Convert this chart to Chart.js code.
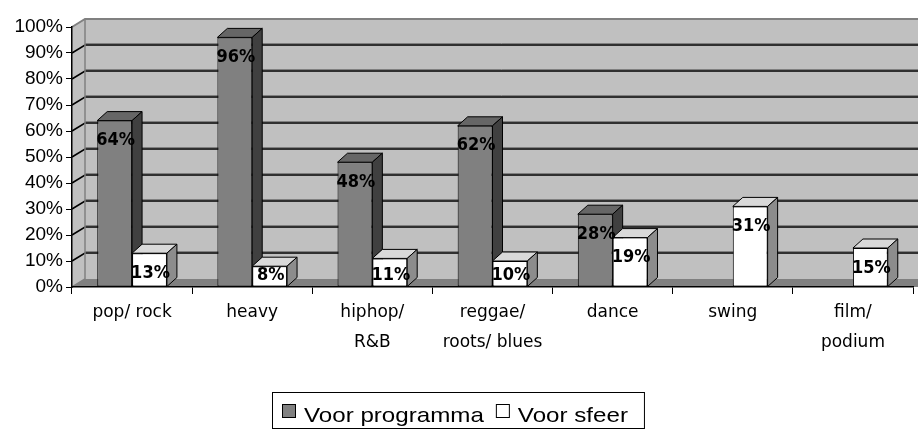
<!DOCTYPE html>
<html>
<head>
<meta charset="utf-8">
<script src="https://cdn.jsdelivr.net/npm/chart.js@4"></script>
<style>
  html, body { margin: 0; padding: 0; background: #fff; }
  #wrap { width: 918px; height: 431px; }
</style>
</head>
<body>
<div id="wrap"><canvas id="genreChart" width="918" height="431"></canvas></div>
<script>
const categories = [['pop/ rock'], ['heavy'], ['hiphop/', 'R&B'], ['reggae/', 'roots/ blues'], ['dance'], ['swing'], ['film/', 'podium']];
const programmaValues = [64, 96, 48, 62, 28, 0, 0];
const sfeerValues = [13, 8, 11, 10, 19, 31, 15];
const seriesNames = ['Voor programma', 'Voor sfeer'];

// colours per series: front, top, side
const faces = [
  { front: '#808080', top: '#666666', side: '#404040' },
  { front: '#ffffff', top: '#d9d9d9', side: '#8c8c8c' }
];
const wallDepth = { dx: 13, dy: -8 };
const barDepth = { dx: 10, dy: -9 };

function poly(ctx, pts, fill, stroke, lw) {
  ctx.beginPath();
  ctx.moveTo(pts[0][0], pts[0][1]);
  for (let i = 1; i < pts.length; i++) ctx.lineTo(pts[i][0], pts[i][1]);
  ctx.closePath();
  if (fill) { ctx.fillStyle = fill; ctx.fill(); }
  if (stroke) { ctx.strokeStyle = stroke; ctx.lineWidth = lw || 1; ctx.stroke(); }
}

const walls = {
  id: 'walls',
  beforeDraw(chart) {
    const ctx = chart.ctx;
    const { left: L, right: R, top: T, bottom: B } = chart.chartArea;
    const { dx, dy } = wallDepth;
    const y = chart.scales.y;
    ctx.save();
    ctx.fillStyle = '#fff';
    ctx.fillRect(0, 0, chart.width, chart.height);
    // back wall
    ctx.fillStyle = '#c0c0c0';
    ctx.fillRect(L + dx, T + dy, R - L + 20, B - T);
    // left wall
    poly(ctx, [[L, B], [L, T], [L + dx, T + dy], [L + dx, B + dy]], '#c0c0c0');
    // floor
    poly(ctx, [[L, B], [R + 20, B], [R + 20, B + dy], [L + dx, B + dy]], '#808080');
    // gridlines
    for (let v = 10; v <= 90; v += 10) {
      const py = y.getPixelForValue(v);
      ctx.beginPath();
      ctx.moveTo(L, py);
      ctx.lineTo(L + dx, py + dy);
      ctx.lineTo(chart.width, py + dy);
      ctx.strokeStyle = '#000';
      ctx.lineWidth = 1.6;
      ctx.stroke();
      ctx.beginPath();
      ctx.moveTo(L + dx, py + dy - 1.5);
      ctx.lineTo(chart.width, py + dy - 1.5);
      ctx.strokeStyle = '#808080';
      ctx.lineWidth = 1;
      ctx.stroke();
    }
    // top edge and wall edges
    ctx.beginPath();
    ctx.moveTo(L, T);
    ctx.lineTo(L + dx, T + dy);
    ctx.lineTo(chart.width, T + dy);
    ctx.strokeStyle = '#808080';
    ctx.lineWidth = 2;
    ctx.stroke();
    ctx.beginPath();
    ctx.moveTo(L + dx, T + dy);
    ctx.lineTo(L + dx, B + dy);
    ctx.lineTo(L, B);
    ctx.strokeStyle = '#808080';
    ctx.lineWidth = 1.5;
    ctx.stroke();
    ctx.restore();
  },
  beforeDatasetsDraw(chart) {
    const ctx = chart.ctx;
    const { dx, dy } = barDepth;
    ctx.save();
    const n = chart.data.labels.length;
    for (let i = 0; i < n; i++) {
      chart.data.datasets.forEach((ds, di) => {
        if (!ds.data[i]) return;
        const el = chart.getDatasetMeta(di).data[i];
        const { x, y, base, width } = el.getProps(['x', 'y', 'base', 'width'], true);
        const l = x - width / 2, r = x + width / 2;
        poly(ctx, [[l, y], [l + dx, y + dy], [r + dx, y + dy], [r, y]], faces[di].top, '#000', 1);
        poly(ctx, [[r, y], [r + dx, y + dy], [r + dx, base + dy], [r, base]], faces[di].side, '#000', 1);
      });
    }
    ctx.restore();
  },
  afterDatasetsDraw(chart) {
    const ctx = chart.ctx;
    ctx.save();
    ctx.font = 'bold 18px "DejaVu Sans Condensed", "DejaVu Sans"';
    ctx.fillStyle = '#000';
    ctx.textAlign = 'center';
    ctx.textBaseline = 'middle';
    chart.data.datasets.forEach((ds, di) => {
      chart.getDatasetMeta(di).data.forEach((el, i) => {
        const v = ds.data[i];
        if (!v) return;
        const { x, y, base } = el.getProps(['x', 'y', 'base'], true);
        ctx.fillText(v + '%', x + 1, Math.min(y + 20, base - 11));
      });
    });
    ctx.restore();
  },
  afterDraw(chart) {
    // legend with frame; text is a little wider than Arial, like the original
    const ctx = chart.ctx;
    const stretch = 1.15;
    ctx.save();
    ctx.font = '21px "Liberation Sans", Arial';
    ctx.textBaseline = 'alphabetic';
    ctx.strokeStyle = '#000';
    ctx.lineWidth = 1;
    const boxLeft = 272;
    let cx = boxLeft + 10;
    seriesNames.forEach((name, i) => {
      ctx.fillStyle = faces[i].front;
      ctx.fillRect(cx, 404, 13, 13);
      ctx.strokeRect(cx + 0.5, 404.5, 13, 13);
      cx += 22;
      ctx.fillStyle = '#000';
      ctx.save();
      ctx.translate(cx, 422);
      ctx.scale(stretch, 1);
      ctx.fillText(name, 0, 0);
      ctx.restore();
      cx += ctx.measureText(name).width * stretch + 12;
    });
    ctx.strokeRect(boxLeft + 0.5, 392.5, cx - boxLeft + 4, 36);
    ctx.restore();
  }
};

new Chart(document.getElementById('genreChart'), {
  type: 'bar',
  data: {
    labels: categories,
    datasets: [
      { label: seriesNames[0], data: programmaValues, backgroundColor: faces[0].front, borderColor: '#000', borderWidth: 1, borderSkipped: false },
      { label: seriesNames[1], data: sfeerValues, backgroundColor: faces[1].front, borderColor: '#000', borderWidth: 1, borderSkipped: false }
    ]
  },
  options: {
    responsive: false,
    animation: false,
    layout: { padding: { top: 27, right: 5, left: 0, bottom: 0 } },
    plugins: {
      legend: { display: false },
      tooltip: { enabled: false }
    },
    datasets: { bar: { barPercentage: 1, categoryPercentage: 0.58 } },
    scales: {
      x: {
        grid: { offset: true, drawOnChartArea: false, color: '#000', tickLength: 7 },
        border: { color: '#000', width: 1.5 },
        ticks: { color: '#000', font: { family: '"DejaVu Sans"', size: 17, lineHeight: 1.76 }, padding: 4, maxRotation: 0, autoSkip: false },
        afterFit(scale) { scale.height = 144; }
      },
      y: {
        min: 0,
        max: 100,
        grid: { drawOnChartArea: false, color: '#000', tickLength: 6 },
        border: { color: '#000', width: 1.5 },
        ticks: { stepSize: 10, color: '#000', padding: 3, font: { family: '"Liberation Sans", Arial', size: 19 }, callback: v => v + '%' },
        afterFit(scale) { scale.width = 72; }
      }
    }
  },
  plugins: [walls]
});
</script>
</body>
</html>
